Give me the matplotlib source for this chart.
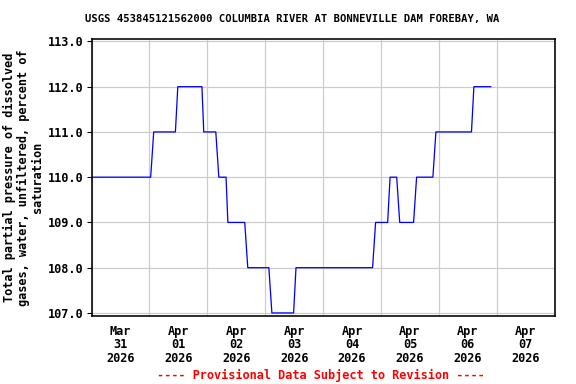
import matplotlib
matplotlib.use("Agg")
import matplotlib.pyplot as plt
import matplotlib.dates as mdates
import pandas as pd
import numpy as np

title = "USGS 453845121562000 COLUMBIA RIVER AT BONNEVILLE DAM FOREBAY, WA"
ylabel = "Total partial pressure of dissolved\ngases, water, unfiltered, percent of\nsaturation"
footer = "---- Provisional Data Subject to Revision ----"

times = [
    "2026-03-31 00:00", "2026-04-01 00:30", "2026-04-01 01:45", "2026-04-01 10:45",
    "2026-04-01 11:45", "2026-04-01 21:45", "2026-04-01 22:30", "2026-04-02 03:30",
    "2026-04-02 04:45", "2026-04-02 07:45", "2026-04-02 08:30", "2026-04-02 15:30",
    "2026-04-02 16:45", "2026-04-03 01:30", "2026-04-03 02:45", "2026-04-03 11:45",
    "2026-04-03 12:45", "2026-04-04 20:30", "2026-04-04 21:45", "2026-04-05 02:45",
    "2026-04-05 03:45", "2026-04-05 06:30", "2026-04-05 07:45", "2026-04-05 13:30",
    "2026-04-05 14:45", "2026-04-05 21:30", "2026-04-05 22:45", "2026-04-06 13:30",
    "2026-04-06 14:30", "2026-04-06 21:30",
]
values = [
    110, 110, 111, 111,
    112, 112, 111, 111,
    110, 110, 109, 109,
    108, 108, 107, 107,
    108, 108, 109, 109,
    110, 110, 109, 109,
    110, 110, 111, 111,
    112, 112,
]
day_ticks = pd.date_range("2026-03-31", "2026-04-08", freq="D")
day_labels = ["Mar\n31\n2026", "Apr\n01\n2026", "Apr\n02\n2026", "Apr\n03\n2026",
              "Apr\n04\n2026", "Apr\n05\n2026", "Apr\n06\n2026", "Apr\n07\n2026"]
y_ticks = [107.0, 108.0, 109.0, 110.0, 111.0, 112.0, 113.0]

font = "DejaVu Sans Mono"
fs = 8.9

fig = plt.figure(figsize=(6, 4), dpi=96)
ax = fig.add_axes([0.159, 0.178, 0.804, 0.72])

t = pd.to_datetime(times)
ax.plot(t, values, color="#0000ff", lw=0.95)

ax.set_xlim(day_ticks[0], day_ticks[-1])
ax.set_ylim(106.94, 113.05)

ax.set_xticks(day_ticks)
ax.set_xticklabels([])
ax.tick_params(axis="x", which="major", length=0)
noon = day_ticks[:-1] + pd.Timedelta(hours=12)
ax.set_xticks(noon, minor=True)
ax.set_xticklabels(day_labels, minor=True, fontfamily=font, fontweight="bold",
                   fontsize=fs, linespacing=1.05)
ax.tick_params(axis="x", which="minor", length=0, pad=7)

ax.set_yticks(y_ticks)
ax.set_yticklabels([f"{v:.1f}" for v in y_ticks], fontfamily=font,
                   fontweight="bold", fontsize=fs)
ax.tick_params(axis="y", length=4, width=0.8, direction="out", pad=2)

ax.grid(True, which="major", color="#cccccc", lw=0.9)
ax.set_axisbelow(True)
for s in ax.spines.values():
    s.set_linewidth(1.2)

ax.set_ylabel(ylabel, fontfamily=font, fontweight="bold", fontsize=fs,
              linespacing=1.1, labelpad=3)

fig.text(292.5 / 576, 1 - 19 / 384, title, ha="center", va="center",
         fontfamily=font, fontweight="bold", fontsize=7.9)
fig.text(321 / 576, 1 - 375 / 384, footer, ha="center", va="center",
         fontfamily=font, fontweight="bold", fontsize=fs, color="red")

fig.savefig("out.png", dpi=96)
